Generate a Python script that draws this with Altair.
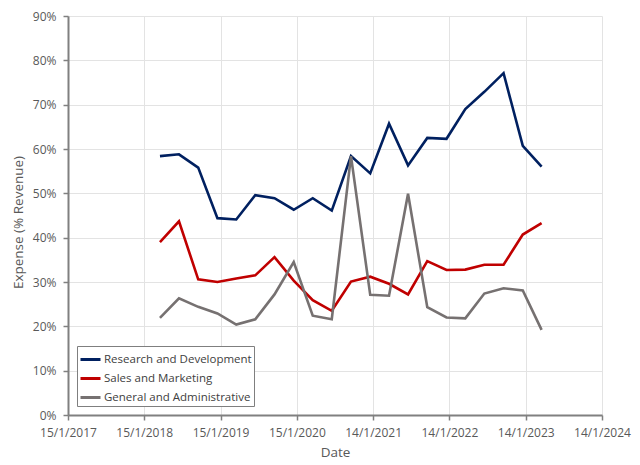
import altair as alt
import pandas as pd

quarters = [
    "2018-03-31", "2018-06-30", "2018-09-30", "2018-12-31",
    "2019-03-31", "2019-06-30", "2019-09-30", "2019-12-31",
    "2020-03-31", "2020-06-30", "2020-09-30", "2020-12-31",
    "2021-03-31", "2021-06-30", "2021-09-30", "2021-12-31",
    "2022-03-31", "2022-06-30", "2022-09-30", "2022-12-31",
    "2023-03-31",
]
rd = [58.4, 58.8, 55.8, 44.4, 44.1, 49.6, 48.9, 46.3, 48.9, 46.1, 58.4,
      54.5, 65.7, 56.3, 62.5, 62.3, 69.0, 72.9, 77.1, 60.7, 56.0]
sm = [39.0, 43.7, 30.6, 30.0, 30.8, 31.5, 35.6, 30.3, 25.9, 23.5, 30.1,
      31.2, 29.6, 27.2, 34.7, 32.7, 32.8, 33.9, 33.9, 40.7, 43.3]
ga = [21.9, 26.3, 24.4, 22.9, 20.4, 21.6, 27.2, 34.5, 22.4, 21.6, 58.4,
      27.1, 26.9, 49.9, 24.3, 22.0, 21.8, 27.4, 28.6, 28.1, 19.2]

series_names = ["Research and Development", "Sales and Marketing", "General and Administrative"]
series_colors = ["#002060", "#C00000", "#767171"]
tick_dates = [(2017, 1, 15), (2018, 1, 15), (2019, 1, 15), (2020, 1, 15),
              (2021, 1, 14), (2022, 1, 14), (2023, 1, 14), (2024, 1, 14)]

rows = []
for name, vals in zip(series_names, [rd, sm, ga]):
    for d, v in zip(quarters, vals):
        rows.append({"date": d, "value": v / 100.0, "series": name})
df = pd.DataFrame(rows)

def dt(t):
    return alt.DateTime(year=t[0], month=t[1], date=t[2], utc=True)

font = "Open Sans"
grey = "#595959"

chart = alt.Chart(df).mark_line(strokeWidth=2.6).encode(
    x=alt.X("date:T",
            title="Date",
            scale=alt.Scale(type="utc", domain=[dt(tick_dates[0]), dt(tick_dates[-1])]),
            axis=alt.Axis(values=[dt(t) for t in tick_dates],
                          labelExpr="utcFormat(datum.value, '%-d/%-m/%Y')",
                          labelFlush=False, labelOverlap=False,
                          labelPadding=7, titlePadding=7)),
    y=alt.Y("value:Q",
            title="Expense (% Revenue)",
            scale=alt.Scale(domain=[0, 0.9], nice=False),
            axis=alt.Axis(format=".0%", values=[i / 10 for i in range(10)],
                          labelPadding=7, titlePadding=7, titleY=206)),
    color=alt.Color("series:N",
                    scale=alt.Scale(domain=series_names, range=series_colors),
                    sort=series_names,
                    legend=alt.Legend(title=None, orient="bottom-left", offset=9,
                                      symbolType="stroke", symbolSize=400,
                                      symbolStrokeWidth=3, labelFontSize=11.5,
                                      labelFont=font, labelColor="#404040",
                                      labelOffset=2, padding=2, rowPadding=1,
                                      strokeColor="#7f7f7f", fillColor="white",
                                      labelLimit=300)),
).properties(
    width=534, height=399,
    autosize="none",
    padding={"left": 60, "top": 8, "right": 30, "bottom": 50},
).configure_axis(
    labelFont=font, titleFont=font, labelFontSize=12, titleFontSize=13.5,
    labelColor=grey, titleColor=grey, titleFontWeight="normal",
    gridColor="#e3e3e3", gridWidth=1, domainColor="#808080", domainWidth=2,
    tickColor="#808080", tickSize=5, tickWidth=1.5,
).configure_view(strokeWidth=0)

chart.save("out.html", embed_options={"renderer": "svg", "actions": False})
